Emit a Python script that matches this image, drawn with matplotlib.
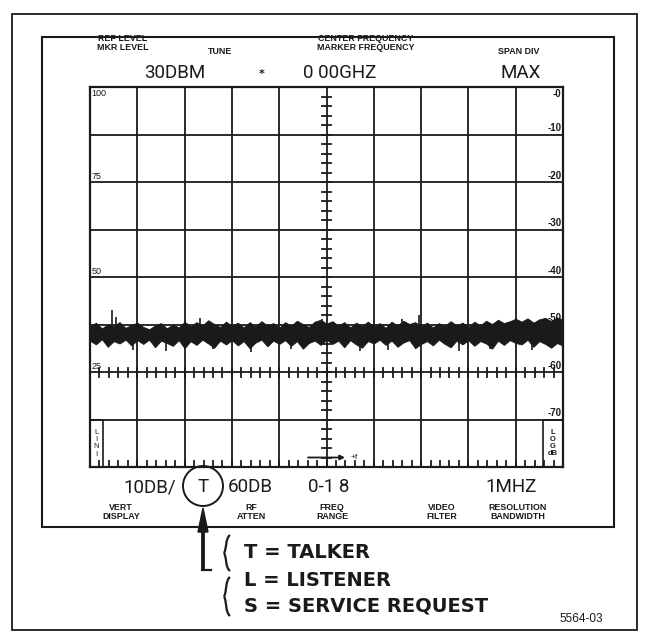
import matplotlib
matplotlib.use("Agg")
import matplotlib.pyplot as plt
import numpy as np
from matplotlib.patches import Rectangle, Circle, FancyArrow
from matplotlib.path import Path
from matplotlib.patches import PathPatch

# ---------------- data ----------------
freq_div = np.arange(0, 10.0001, 0.125)  # horizontal divisions (81 points)
trace_upper = [
    -50.4, -49.6, -50.8, -50.0, -50.3, -49.5, -50.7, -50.1, -49.6,
    -50.5, -51.0, -50.2, -49.7, -50.8, -50.0, -50.6, -49.4,
    -50.4, -49.5, -50.2, -49.1, -49.9, -50.5, -49.4, -50.3,
    -49.6, -50.6, -49.5, -50.4, -49.3, -50.2, -49.7, -50.7,
    -49.5, -50.3, -49.2, -49.9, -50.5, -49.4, -49.0, -49.8,
    -49.3, -50.2, -49.5, -50.6, -49.6, -50.3, -49.4, -50.4,
    -49.7, -50.7, -49.4, -50.2, -49.2, -49.9, -49.5, -50.4,
    -49.6, -50.6, -49.7, -50.3, -49.3, -50.2, -49.6, -50.5,
    -49.4, -50.2, -49.2, -49.9, -49.0, -49.7, -49.3, -48.8,
    -49.4, -48.7, -49.6, -48.9, -48.6, -49.3, -48.5, -49.0,
]
trace_lower = [
    -53.4, -54.2, -53.1, -54.7, -53.5, -54.0, -53.2, -54.4, -53.3,
    -54.1, -53.2, -54.8, -53.4, -53.9, -54.5, -53.3, -55.0,
    -53.5, -54.3, -53.2, -54.0, -54.9, -53.4, -54.2, -53.3,
    -54.4, -53.5, -55.0, -53.8, -53.2, -54.6, -53.4, -54.1,
    -53.3, -54.5, -53.5, -55.1, -53.9, -53.4, -54.3, -53.2,
    -54.1, -53.4, -54.8, -53.3, -54.2, -54.9, -53.5, -54.0,
    -53.2, -54.3, -53.4, -54.7, -53.8, -53.3, -55.0, -54.1,
    -53.5, -54.4, -53.2, -54.1, -54.8, -53.4, -54.2, -53.3,
    -54.5, -53.5, -54.0, -55.1, -53.4, -54.3, -53.3, -53.9,
    -54.2, -53.2, -54.7, -53.5, -54.1, -54.9, -53.9, -54.5,
]
spike_x = [0.47, 0.55, 2.32, 4.9, 6.6, 6.95, 9.0]
spike_top = [-47.0, -48.4, -48.6, -48.8, -48.9, -48.0, -48.6]
dip_x = [0.9, 1.6, 2.6, 3.4, 4.25, 5.7, 6.3, 7.8, 8.45, 9.35]
dip_bottom = [-55.3, -55.6, -55.1, -55.7, -55.2, -55.5, -55.3, -55.6, -55.1, -55.4]

lin_labels = ["100", "75", "50", "25"]
lin_label_db = [0, -20, -40, -60]
log_labels = ["-0", "-10", "-20", "-30", "-40", "-50", "-60", "-70"]
log_label_db = [0, -10, -20, -30, -40, -50, -60, -70]

header_small = [("REF LEVEL\nMKR LEVEL", 123, 43), ("TUNE", 220, 52),
                ("CENTER FREQUENCY\nMARKER FREQUENCY", 366, 43), ("SPAN DIV", 519, 52)]
header_big = [("30DBM", 175, 73), ("0 00GHZ", 340, 73), ("MAX", 521, 73)]
footer_big = [("10DB/", 150, 487), ("T", 203, 487), ("60DB", 250, 487),
              ("0-1 8", 329, 487), ("1MHZ", 511, 487)]
footer_small = [("VERT\nDISPLAY", 121, 512), ("RF\nATTEN", 251, 512),
                ("FREQ\nRANGE", 332, 512), ("VIDEO\nFILTER", 442, 512),
                ("RESOLUTION\nBANDWIDTH", 518, 512)]
legend_lines = ["T = TALKER", "L = LISTENER", "S = SERVICE REQUEST"]
legend_y = [553, 581, 606]
fig_number = "5564-03"

ink = "#1a1a1a"
W, H = 649, 634
fig = plt.figure(figsize=(W / 100, H / 100), dpi=100)
fig.patch.set_facecolor("white")

ov = fig.add_axes([0, 0, 1, 1])
ov.set_xlim(0, W)
ov.set_ylim(H, 0)
ov.axis("off")

ov.add_patch(Rectangle((12, 14), 625, 616, fill=False, ec=ink, lw=1.3))
ov.add_patch(Rectangle((42, 37), 572, 490, fill=False, ec=ink, lw=1.5))

small_kw = dict(fontsize=6.4, fontweight="bold", family="Liberation Sans",
                color=ink, linespacing=1.1, ha="center", va="center")
big_kw = dict(fontsize=13.5, family="Roboto", color=ink, ha="center", va="center")
for t, x, y in header_small:
    ov.text(x, y, t, **small_kw)
for t, x, y in header_big:
    ov.text(x, y, t, **big_kw)
ov.text(262, 74, "*", fontsize=8, fontweight="bold", family="DejaVu Sans",
        color=ink, ha="center", va="center")
for t, x, y in footer_big:
    ov.text(x, y, t, **big_kw)
for t, x, y in footer_small:
    ov.text(x, y, t, **small_kw)

ov.add_patch(Circle((203, 486), 20, fill=False, ec=ink, lw=1.4))
ov.add_patch(FancyArrow(203, 570, 0, -62, width=2.4, head_width=10, head_length=24,
                        length_includes_head=True, color=ink))
ov.plot([202, 211], [570, 570], color=ink, lw=1.6)

def brace(x, y0, y1):
    ym = (y0 + y1) / 2
    top = [(x + 3, y0), (x - 2, y0 + 4), (x, ym - 5), (x - 3, ym)]
    bot = [(x - 3, ym), (x, ym + 5), (x - 2, y1 - 4), (x + 3, y1)]
    c = [Path.MOVETO, Path.CURVE4, Path.CURVE4, Path.CURVE4]
    ov.add_patch(PathPatch(Path(top, c), fill=False, ec=ink, lw=1.6))
    ov.add_patch(PathPatch(Path(bot, c), fill=False, ec=ink, lw=1.6))

brace(227, 535, 571)
brace(227, 577, 616)

for t, y in zip(legend_lines, legend_y):
    ov.text(244, y, t, ha="left", va="center", fontsize=14, fontweight="bold",
            family="DejaVu Sans", color=ink)
ov.text(603, 619, fig_number, ha="right", va="center", fontsize=8.5,
        family="Liberation Sans", color=ink)

# ---------------- graticule ----------------
gx0, gx1, gy0, gy1 = 90, 563, 87, 467
ax = fig.add_axes([gx0 / W, (H - gy1) / H, (gx1 - gx0) / W, (gy1 - gy0) / H])
ax.set_xlim(0, 10)
ax.set_ylim(-80, 0)
ax.set_xticks([])
ax.set_yticks([])
for s in ax.spines.values():
    s.set_linewidth(1.6)
    s.set_color(ink)
ax.patch.set_alpha(0)

for xv in range(1, 10):
    ax.axvline(xv, color=ink, lw=1.3)
for yv in range(-70, 0, 10):
    ax.axhline(yv, color=ink, lw=1.3)

dx = 4.5 / 47.3
for yv in np.arange(-80, 0.01, 2):
    ax.plot([5 - dx, 5 + dx], [yv, yv], color=ink, lw=1.3)
dy = 4.5 / 4.75
for xv in np.arange(0, 10.01, 0.2):
    ax.plot([xv, xv], [-60 - dy, -60 + dy], color=ink, lw=1.3)
for xv in np.arange(0, 10.01, 0.2):
    ax.plot([xv, xv], [-80, -80 + 1.3], color=ink, lw=1.3)

# noise trace
ax.fill_between(freq_div, trace_lower, trace_upper, color=ink, lw=0.6, edgecolor=ink)
ax.vlines(spike_x, -51, spike_top, color=ink, lw=1.2)
ax.vlines(dip_x, -53, dip_bottom, color=ink, lw=1.2)

for t, v in zip(lin_labels, lin_label_db):
    ax.text(0.03, v - 0.4 if v == 0 else v + 0.3, t, ha="left",
            va="top" if v == 0 else "bottom", fontsize=6.5, family="Liberation Sans", color=ink)
for t, v in zip(log_labels, log_label_db):
    ax.text(9.97, v - 0.4 if v == 0 else v + 0.3, t, ha="right",
            va="top" if v == 0 else "bottom", fontsize=7, fontweight="bold",
            family="Liberation Sans", color=ink)

ax.add_patch(Rectangle((0, -80), 0.28, 10, fill=False, ec=ink, lw=1.2))
ax.text(0.14, -75, "L\nI\nN\nI", ha="center", va="center", fontsize=5.5,
        family="Liberation Sans", color=ink, linespacing=1.05)
ax.add_patch(Rectangle((9.58, -80), 0.42, 10, fill=False, ec=ink, lw=1.2))
ax.text(9.79, -75, "L\nO\nG\ndB", ha="center", va="center", fontsize=5.5,
        fontweight="bold", family="Liberation Sans", color=ink, linespacing=1.0)

ax.annotate("", xy=(5.45, -78.0), xytext=(4.55, -78.0),
            arrowprops=dict(arrowstyle="-|>", color=ink, lw=1.3, mutation_scale=7))
ax.text(5.5, -78.0, "+f", ha="left", va="center", fontsize=6, family="Liberation Sans", color=ink)

fig.savefig("out.png", dpi=100, facecolor="white")
